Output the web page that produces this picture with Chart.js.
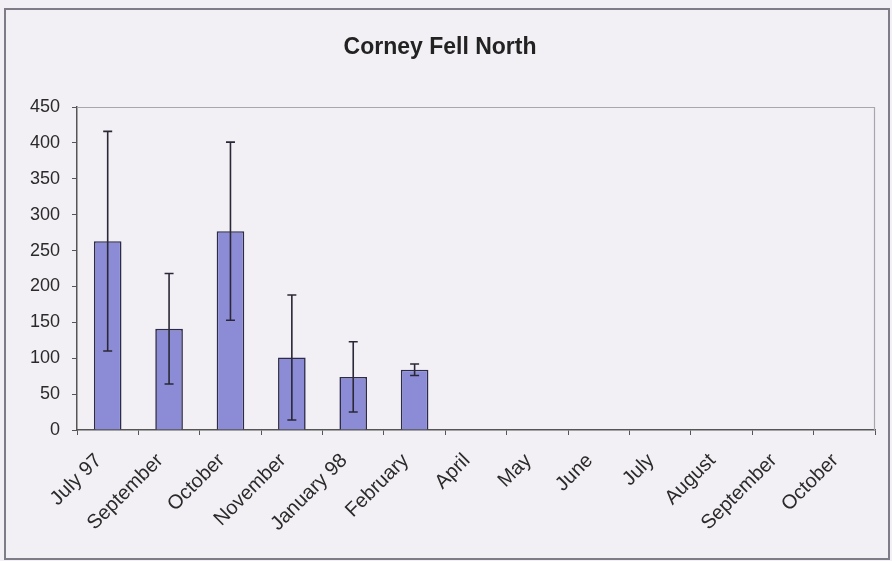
<!DOCTYPE html>
<html>
<head>
<meta charset="utf-8">
<script src="https://cdn.jsdelivr.net/npm/chart.js@4/dist/chart.umd.min.js"></script>
<style>
  html, body { margin: 0; padding: 0; background: #F2EFF4; }
  #wrap { width: 892px; height: 561px; position: relative; }
</style>
</head>
<body>
<div id="wrap"><canvas id="c" width="892" height="561"></canvas></div>
<script>
const titleText = "Corney Fell North";
const categories = ["July 97","September","October","November","January 98","February","April","May","June","July","August","September","October"];
const meanValues = [263, 141, 277, 101, 74, 84, null, null, null, null, null, null, null];
const errorValues = [153, 77, 124, 87, 49, 8, null, null, null, null, null, null, null];
const yTicks = [0, 50, 100, 150, 200, 250, 300, 350, 400, 450];

const frameAndBorder = {
  id: 'frameAndBorder',
  beforeDraw(chart) {
    const ctx = chart.ctx;
    ctx.save();
    ctx.fillStyle = '#F3F0F5';
    ctx.fillRect(0, 0, chart.width, chart.height);
    ctx.strokeStyle = '#7E7C86';
    ctx.lineWidth = 2;
    ctx.strokeRect(5, 9, 884, 550);
    ctx.restore();
  },
  beforeDatasetsDraw(chart) {
    const a = chart.chartArea, ctx = chart.ctx;
    ctx.save();
    ctx.strokeStyle = '#A9A7AE';
    ctx.lineWidth = 1.2;
    ctx.beginPath();
    ctx.moveTo(a.left, a.top + 0.5);
    ctx.lineTo(a.right - 0.5, a.top + 0.5);
    ctx.lineTo(a.right - 0.5, a.bottom);
    ctx.stroke();
    ctx.restore();
  }
};

const errorBars = {
  id: 'errorBars',
  afterDatasetsDraw(chart) {
    const ctx = chart.ctx;
    const meta = chart.getDatasetMeta(0);
    const ys = chart.scales.y;
    ctx.save();
    ctx.strokeStyle = '#2A2836';
    ctx.lineWidth = 1.6;
    meta.data.forEach((bar, i) => {
      const v = meanValues[i], e = errorValues[i];
      if (v == null || e == null) return;
      const x = bar.x;
      const yt = ys.getPixelForValue(v + e);
      const yb = ys.getPixelForValue(Math.max(v - e, 0));
      ctx.beginPath();
      ctx.moveTo(x, yt); ctx.lineTo(x, yb);
      ctx.moveTo(x - 4.5, yt); ctx.lineTo(x + 4.5, yt);
      ctx.moveTo(x - 4.5, yb); ctx.lineTo(x + 4.5, yb);
      ctx.stroke();
    });
    ctx.restore();
  }
};

new Chart(document.getElementById('c'), {
  type: 'bar',
  data: {
    labels: categories,
    datasets: [{
      data: meanValues,
      backgroundColor: '#8C8CD6',
      borderColor: '#2C2B48',
      borderWidth: 1.6,
      barPercentage: 0.45,
      categoryPercentage: 1.0
    }]
  },
  options: {
    responsive: false,
    animation: false,
    devicePixelRatio: 1,
    layout: { padding: { left: 5, right: 17, top: 10, bottom: 0 } },
    plugins: {
      legend: { display: false },
      tooltip: { enabled: false },
      title: {
        display: true,
        text: titleText,
        color: '#222222',
        font: { family: 'Liberation Sans, Arial, sans-serif', size: 23, weight: 'bold' },
        lineHeight: 1.2,
        padding: { top: 24, bottom: 45.4 }
      }
    },
    scales: {
      x: {
        offset: true,
        grid: { display: true, drawOnChartArea: false, drawTicks: true, tickLength: 5, color: '#555555', offset: true },
        border: { display: true, color: '#555555', width: 1.5 },
        ticks: {
          color: '#2A2A2A',
          font: { family: 'Liberation Sans, Arial, sans-serif', size: 20 },
          minRotation: 45, maxRotation: 45, autoSkip: false, padding: 14,
          labelOffset: -9
        },
        afterFit(scale) { scale.height = 131; }
      },
      y: {
        min: 0, max: 450,
        afterBuildTicks(scale) { scale.ticks = yTicks.map(v => ({ value: v })); },
        grid: { display: true, drawOnChartArea: false, drawTicks: true, tickLength: 5, color: '#555555' },
        border: { display: true, color: '#555555', width: 1.5 },
        ticks: {
          color: '#2A2A2A',
          font: { family: 'Liberation Sans, Arial, sans-serif', size: 18 },
          padding: 12
        },
        afterFit(scale) { scale.width = 72; }
      }
    }
  },
  plugins: [frameAndBorder, errorBars]
});
</script>
</body>
</html>
